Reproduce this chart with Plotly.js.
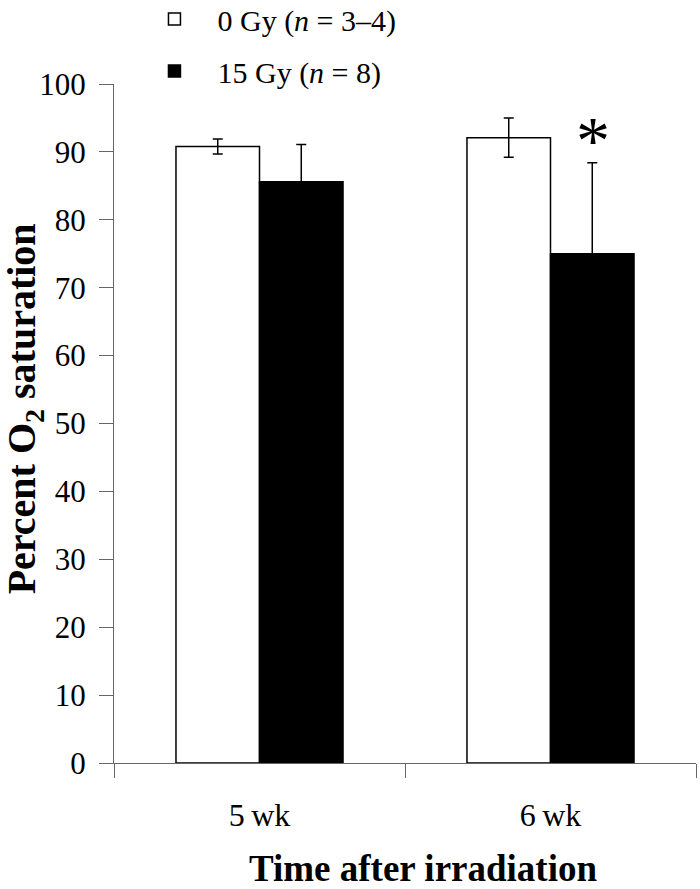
<!DOCTYPE html>
<html>
<head>
<meta charset="utf-8">
<script src="https://cdn.plot.ly/plotly-3.0.1.min.js"></script>
<style>
  body { margin: 0; background: #fff; }
  #myDiv { width: 700px; height: 889px; }
</style>
</head>
<body>
<div id="myDiv"></div>
<script>
var weeks = ['5\u2009wk', '6\u2009wk'];

var ctrlName = '0 Gy (<i>n</i> = 3\u20134)';
var ctrlMean = [90.8, 92.1];
var ctrlErr = [1.1, 2.9];

var irrName = '15 Gy (<i>n</i> = 8)';
var irrMean = [85.6, 75.0];
var irrErr = [5.5, 13.4];

var serif = '"Liberation Serif", "Times New Roman", serif';

var ctrl = {
  type: 'bar',
  name: ctrlName,
  legendgroup: 'a',
  x: weeks,
  y: ctrlMean,
  marker: { color: '#fff', line: { color: '#000', width: 1.5 } },
  error_y: { type: 'data', array: ctrlErr, color: '#000', thickness: 1.5, width: 5 }
};

var irr = {
  type: 'bar',
  name: irrName,
  legendgroup: 'b',
  x: weeks,
  y: irrMean,
  marker: { color: '#000', line: { color: '#000', width: 1.5 } },
  error_y: { type: 'data', array: irrErr, color: '#000', thickness: 1.5, width: 5 }
};

var layout = {
  width: 700,
  height: 889,
  margin: { l: 114, r: 4, t: 84, b: 126, autoexpand: false },
  paper_bgcolor: '#fff',
  plot_bgcolor: '#fff',
  font: { family: serif, size: 31, color: '#000' },
  barmode: 'group',
  bargap: 0.426,
  bargroupgap: 0,
  showlegend: true,
  legend: {
    x: 0.03, xanchor: 'left',
    y: 1.134, yanchor: 'top',
    font: { family: serif, size: 30 },
    traceorder: 'grouped',
    tracegroupgap: 10,
    itemwidth: 76,
    bgcolor: 'rgba(0,0,0,0)'
  },
  xaxis: {
    type: 'category',
    range: [-0.5, 1.5],
    showline: true, linecolor: '#666', linewidth: 1,
    ticks: 'outside', tickson: 'boundaries', ticklen: 14, tickcolor: '#666',
    ticklabelstandoff: 24,
    showgrid: false, zeroline: false,
    tickfont: { family: serif, size: 32 }
  },
  yaxis: {
    range: [0, 100],
    dtick: 10,
    showline: true, linecolor: '#666', linewidth: 1,
    ticks: 'outside', ticklen: 14, tickcolor: '#666',
    ticklabelstandoff: 7,
    showgrid: false, zeroline: false,
    tickfont: { family: serif, size: 31 }
  },
  annotations: [
    {
      text: 'Percent O<sub>2</sub> saturation',
      xref: 'paper', yref: 'paper',
      x: -0.155, y: 0.522, xanchor: 'center', yanchor: 'middle',
      textangle: -90, showarrow: false,
      font: { family: serif, size: 40, weight: 'bold' }
    },
    {
      text: 'Time after irradiation',
      xref: 'paper', yref: 'paper',
      x: 0.531, y: -0.156, xanchor: 'center', yanchor: 'middle',
      showarrow: false,
      font: { family: serif, size: 37, weight: 'bold' }
    },
    {
      text: '*',
      xref: 'x', yref: 'y',
      x: weeks[1], y: 91.7, xshift: 42,
      xanchor: 'center', yanchor: 'middle',
      showarrow: false,
      font: { family: serif, size: 68 }
    }
  ]
};

Plotly.newPlot('myDiv', [ctrl, irr], layout, { displayModeBar: false, staticPlot: true });
</script>
</body>
</html>
